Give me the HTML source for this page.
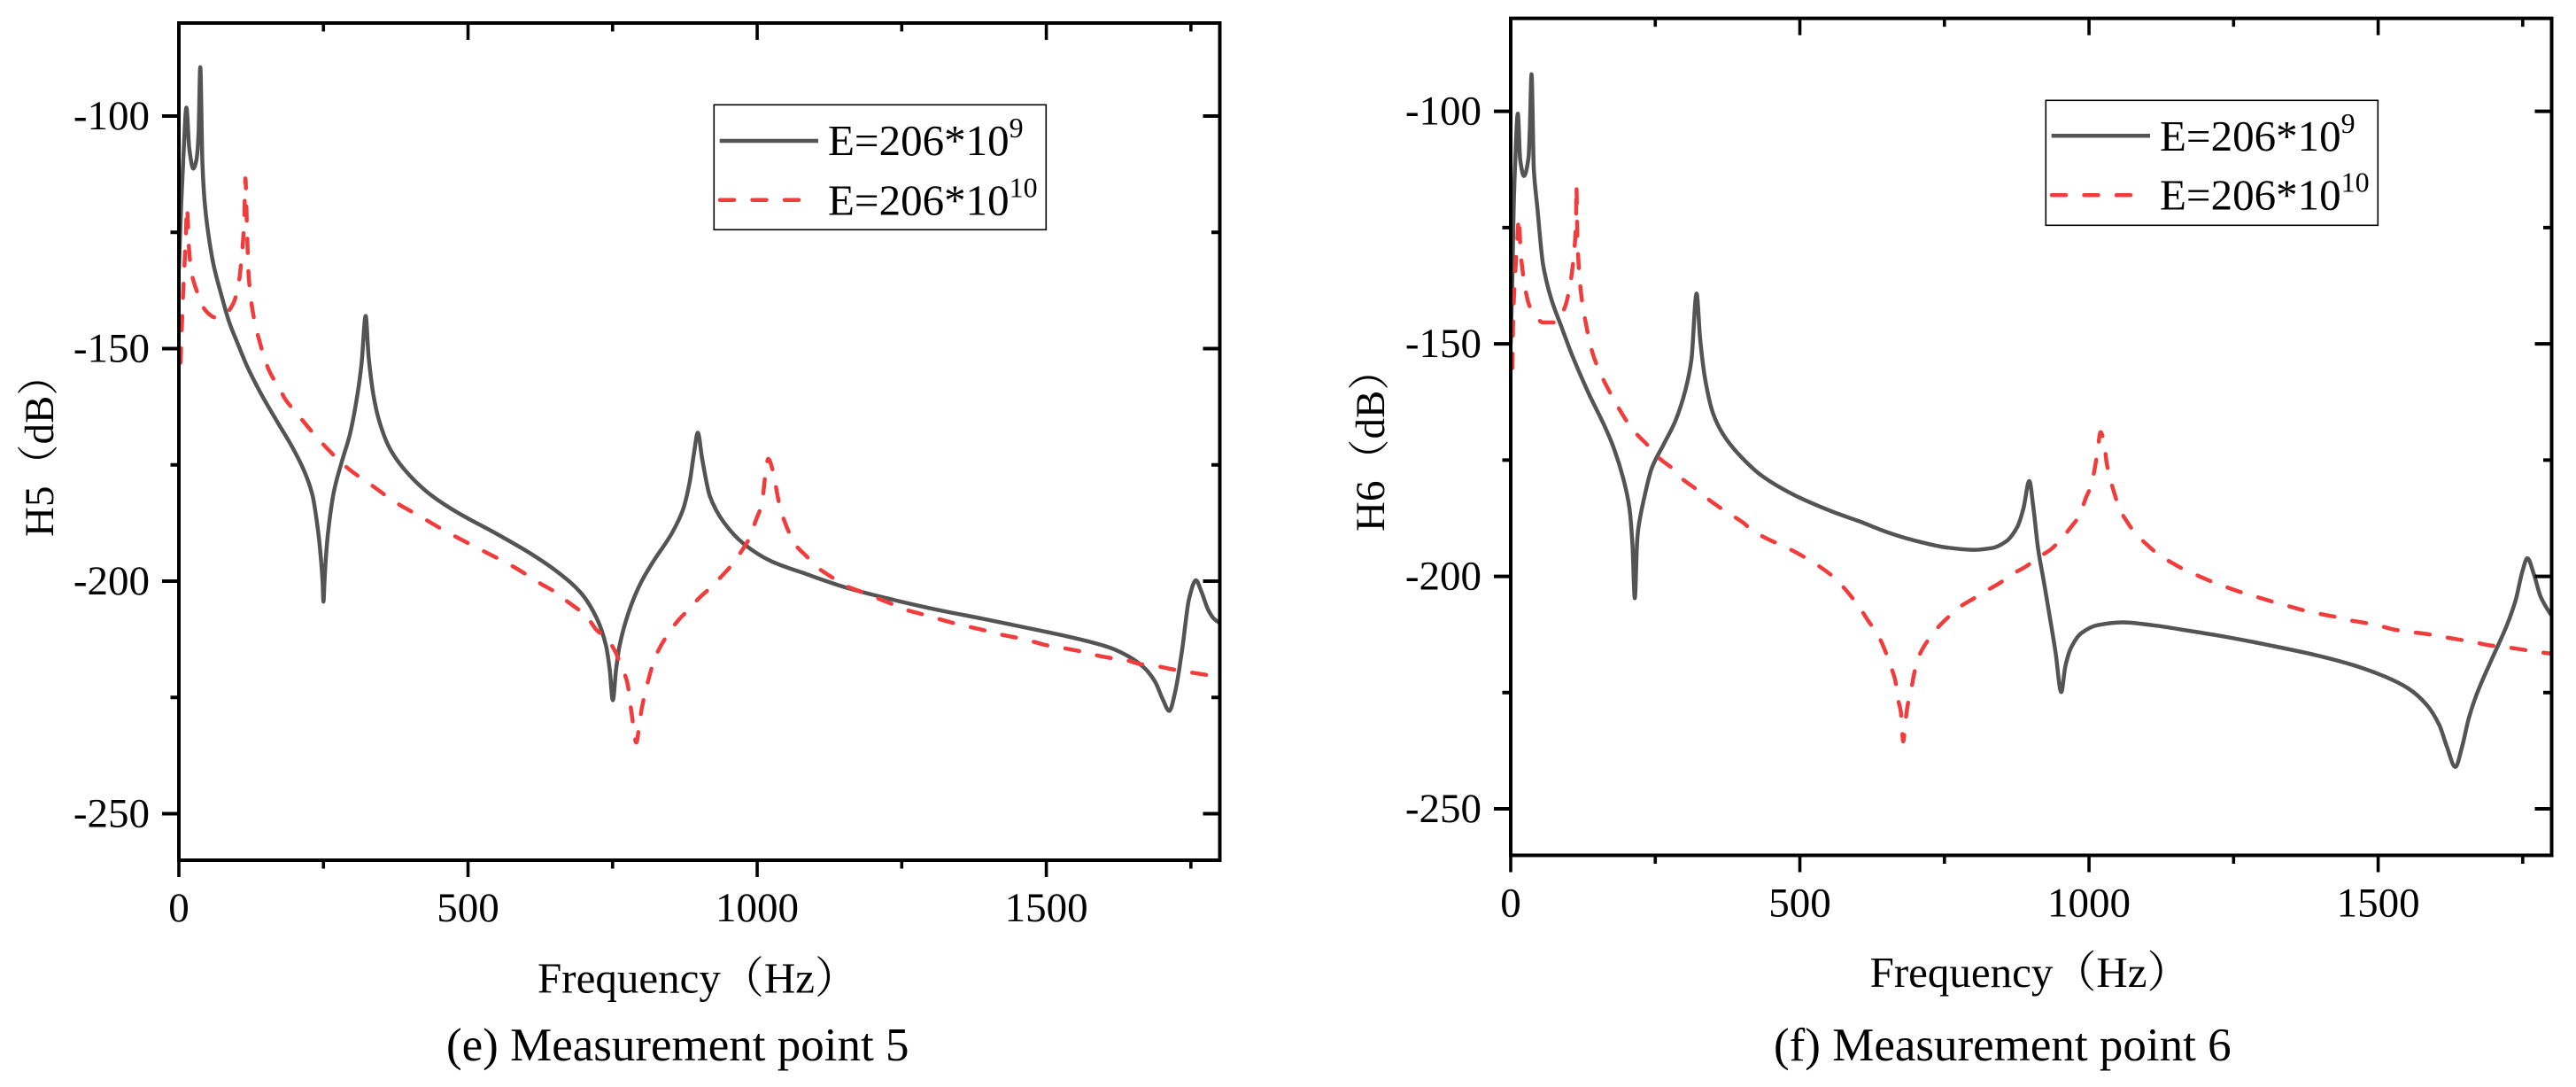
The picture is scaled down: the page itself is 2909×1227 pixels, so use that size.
<!DOCTYPE html>
<html lang="en">
<head>
<meta charset="utf-8">
<title>Frequency response at measurement points 5 and 6</title>
<style>
html,body{margin:0;padding:0;background:#fff;}
svg{display:block;}
text{font-family:"Liberation Serif","Noto Serif CJK SC",serif;fill:#000;}
.tick-label{font-size:47px;}
.axis-title{font-size:49px;}
.axis-title-y{font-size:47px;}
.legend-text{font-size:49px;}
.legend-sup{font-size:32px;}
.caption{font-size:53px;}
</style>
</head>
<body>
<svg id="chart" xmlns="http://www.w3.org/2000/svg" width="2909" height="1227" viewBox="0 0 2909 1227">
  <rect x="0" y="0" width="2909" height="1227" fill="#fff"/>
  <g id="panel-e"></g>
  <g id="panel-f"></g>

  <text class="axis-title-y" transform="translate(60,606) rotate(-90)">H5（dB）</text>
  <text class="axis-title" x="607" y="1120.7">Frequency（Hz）</text>
  <text class="caption" x="504" y="1197">(e) Measurement point 5</text>

  <text class="axis-title-y" transform="translate(1563,600) rotate(-90)">H6（dB）</text>
  <text class="axis-title" x="2111.6" y="1114">Frequency（Hz）</text>
  <text class="caption" x="2003" y="1197">(f) Measurement point 6</text>

  <g>
    <rect x="806.3" y="118.3" width="375" height="141" fill="#fff" stroke="#000" stroke-width="1.6"/>
    <line x1="812.7" y1="159" x2="924" y2="159" stroke="#545454" stroke-width="4.5"/>
    <line x1="813" y1="225.7" x2="903" y2="225.7" stroke="#f23c3c" stroke-width="4.5" stroke-linecap="round" stroke-dasharray="16 20.5"/>
    <text class="legend-text" x="935" y="175">E=206*10<tspan class="legend-sup" dy="-20">9</tspan></text>
    <text class="legend-text" x="935" y="242.7">E=206*10<tspan class="legend-sup" dy="-20">10</tspan></text>
  </g>
  <g>
    <rect x="2310.3" y="113.3" width="375" height="141" fill="#fff" stroke="#000" stroke-width="1.6"/>
    <line x1="2316.7" y1="153.3" x2="2428" y2="153.3" stroke="#545454" stroke-width="4.5"/>
    <line x1="2317" y1="220.3" x2="2407" y2="220.3" stroke="#f23c3c" stroke-width="4.5" stroke-linecap="round" stroke-dasharray="16 20.5"/>
    <text class="legend-text" x="2439" y="170">E=206*10<tspan class="legend-sup" dy="-20">9</tspan></text>
    <text class="legend-text" x="2439" y="236.7">E=206*10<tspan class="legend-sup" dy="-20">10</tspan></text>
  </g>
</svg>
<script>
var xTickValues = [0, 500, 1000, 1500];
var xMinorValues = [250, 750, 1250, 1750];
var yTickValues = [-100, -150, -200, -250];
var yMinorValues = [-125, -175, -225];
var xTickLabels = ["0", "500", "1000", "1500"];
var yTickLabels = ["-100", "-150", "-200", "-250"];

var freqH5Solid = [0,4,8.5,13,18,25,30.4,34,37,40.7,44.8,51,60,73.5,87,101,118,142,169,196.6,217,231,241,245.5,248.5,250,252,254.5,258,268,282,295.8,309,316,323,328,337,347,364,388,429,477,552,610,656.6,695.7,723,738.7,745,750.4,756,762,778,797,820.7,852,871.5,883,891,897.3,905,918.4,942,977,1024,1078.7,1157,1235,1313,1391,1469,1547.6,1610,1641,1669,1688,1702,1712.5,1723.5,1735,1747,1758.7,1768,1780,1790,1800];
var dbH5Solid = [-133,-119,-107,-98.2,-107,-111.3,-109.4,-104,-89.5,-110.1,-118.8,-125.4,-132,-138.5,-144.3,-148.7,-153.8,-159.7,-165.5,-171.3,-176.4,-181.5,-189.5,-195,-200,-204.4,-199.5,-194.5,-189.5,-180.8,-174.2,-168.4,-159.7,-153.1,-143,-151.6,-160.4,-165.8,-171.3,-175.7,-180.8,-184.9,-190,-194.2,-198.2,-202.6,-208.1,-213.9,-219,-225.6,-219,-213.9,-206.6,-200.8,-195.7,-189.8,-184.7,-178.9,-172.3,-168.1,-173.8,-181.8,-187.3,-192,-195.7,-198.2,-201.5,-204,-206.2,-208.1,-210.1,-212.2,-214.3,-216.1,-218.6,-221.6,-225.6,-227.9,-223.4,-214.6,-203.7,-199.8,-202.2,-206.2,-208.1,-209];

var freqH5Dashed = [3,5,7,10,12,14,17.4,21.5,25.6,36,46,63,77,94,103,109,113,115,118,121,128,138.5,155.6,176,183,207,244.5,292,337,374,419,463,520,580,629,649,672,692,703.5,723,738.7,754,766,775,783,791,797,801,809,824.6,848,863.7,883,899,922,938,957.5,971,988.8,996.6,1008,1014.6,1019,1028,1031.8,1038,1043.5,1055,1065,1086.5,1103.7,1129.5,1149,1176,1200,1231,1250.6,1282,1305,1333,1356,1387,1422.5,1450,1477,1504.6,1530,1559,1585,1610,1637.5,1665,1692,1719.6,1743,1774,1798];
var dbH5Dashed = [-153,-145.8,-139.2,-131.2,-126,-119.6,-128.3,-133.4,-135.6,-139.2,-141.8,-143.3,-143,-140.3,-136.3,-129.8,-122.5,-113.4,-125.4,-134.9,-142.2,-148,-154.6,-159,-160.7,-164.4,-169.9,-175.7,-179.7,-183,-186.2,-189.4,-193.1,-197,-200.8,-202.2,-204.4,-206.2,-207.3,-210.6,-212.1,-215,-218.6,-221.6,-228.5,-234.7,-230,-227,-222.6,-216.1,-211,-208.4,-205.9,-203.7,-201.1,-199,-196.3,-193.9,-190.2,-187.3,-183.3,-176.7,-173.7,-176.7,-179.3,-183.3,-185.8,-189.5,-192,-194.8,-197,-199.2,-200.8,-202.1,-203.3,-204.8,-205.9,-207,-207.8,-208.8,-209.5,-210.4,-211.5,-212.2,-213,-213.9,-214.4,-215.1,-215.9,-216.5,-217,-217.9,-218.3,-219,-219.5,-220.1,-220.7];

var freqH6Solid = [0,3,5,7.5,12.3,16.4,23,30.8,33,36,40,46,56,70,87,107,135,162,177,194.7,205.3,210.4,214.6,218.5,220.6,230.5,244,264.6,285,302,312.5,321.4,327.6,336.5,350,367,394.6,435.6,490,558.7,603.6,651,698.4,753.8,801,833,856.5,876.3,886.6,896.8,904,912,922,931.6,942,952,959,968.8,986.9,1014.6,1058,1109.5,1172.7,1236,1315,1394,1457,1512.5,1552,1583.7,1605.8,1619,1633.5,1645,1657,1670.6,1698,1722,1737.8,1749.7,1758,1769.4,1781,1797,1800];
var dbH6Solid = [-150,-135,-121.3,-111.8,-100.5,-110.4,-113.9,-110,-104,-92,-112.6,-120.6,-133,-140.3,-146.1,-152.7,-160.7,-167.6,-172,-179,-185.3,-192.9,-204.7,-192.8,-189.8,-183.3,-176.7,-171.6,-166.5,-160,-153.4,-139.2,-149,-157.8,-165,-169.4,-173.8,-178.5,-182.5,-186.2,-188.2,-190.5,-192.3,-193.8,-194.3,-193.9,-192.5,-189.3,-185.4,-179.5,-185.4,-194.1,-201.2,-208.3,-216.2,-224.9,-219.4,-215.4,-212.2,-210.5,-209.9,-210.5,-211.7,-213,-214.9,-217,-219.1,-221.6,-224.1,-227.6,-232,-236.7,-241,-236.7,-230.4,-225.3,-217.4,-210.7,-205.1,-198.8,-196.1,-199.6,-204.4,-207.9,-208.4];

var freqH6Dashed = [3,4,5.5,8,11.6,14,17,20,24,32,42,56,78.6,94,102.6,108.7,113,113.5,115.6,121,129,141.6,155,175.7,189,210,240.7,256,281.7,295.4,319,336,360.4,377.5,401.4,418.5,500,555,580,607.5,617.8,635,645.5,657.3,665,669.2,674.7,678.7,682.6,686.6,693,698.4,708,723.7,739.5,759,775,802.8,821,846,866,892,910,934,951,969.5,983,995,1004,1010.6,1014.6,1020,1026.5,1030.4,1036,1044,1052.5,1067.6,1080,1103,1120,1143.5,1162.4,1191,1213.8,1244,1267.5,1297.6,1319,1350.5,1374,1400,1425.6,1453,1477,1507,1530,1558.4,1583.7,1611,1635,1664,1690.4,1718,1741.8,1771.8,1797];
var dbH6Dashed = [-155.2,-146,-140.3,-134.4,-127.2,-122.8,-130,-133.7,-137.4,-141.7,-143.9,-145.4,-145.4,-142,-137.4,-131.5,-123.5,-115.9,-128.6,-138.4,-145,-152,-156.3,-161.4,-164.3,-168.3,-172.3,-174.5,-177,-178.9,-181.1,-182.9,-185.1,-186.5,-188.4,-190.2,-195.3,-199.8,-203,-207.5,-209.5,-212.6,-215.4,-219.4,-222.4,-226.1,-229.2,-235.5,-231.2,-227.6,-224,-220.5,-216.6,-213.4,-210.9,-208.5,-206.7,-204.6,-203.2,-201.4,-199.6,-197.8,-196.1,-194.2,-192.1,-189.3,-187,-183,-180.3,-176.3,-173.2,-169,-171.6,-175.5,-178.7,-182.2,-185.4,-188.6,-190.7,-193.5,-195.3,-197.1,-198.4,-200,-201.2,-202.6,-203.6,-204.7,-205.5,-206.6,-207.4,-208.1,-208.7,-209.5,-210,-210.8,-211.5,-212,-212.4,-213,-213.5,-214.1,-214.8,-215.2,-215.6,-216.2,-216.6];

var xDomain = [0, 1800];
var yDomain = [-260, -80];
var NS = "http://www.w3.org/2000/svg";

function makeLine(parent, x1, y1, x2, y2, w) {
  var el = document.createElementNS(NS, "line");
  el.setAttribute("x1", x1);
  el.setAttribute("y1", y1);
  el.setAttribute("x2", x2);
  el.setAttribute("y2", y2);
  el.setAttribute("stroke", "#000");
  el.setAttribute("stroke-width", w);
  parent.appendChild(el);
  return el;
}

/* monotone cubic path so peaks do not overshoot */
function monotonePath(xs, ys) {
  var n = xs.length, d = [], m = [], i;
  for (i = 0; i < n - 1; i++) {
    d[i] = (ys[i + 1] - ys[i]) / Math.max(xs[i + 1] - xs[i], 1e-6);
  }
  m[0] = d[0];
  m[n - 1] = d[n - 2];
  for (i = 1; i < n - 1; i++) {
    m[i] = d[i - 1] * d[i] <= 0 ? 0 : 2 * d[i - 1] * d[i] / (d[i - 1] + d[i]);
  }
  var p = "M" + xs[0].toFixed(2) + " " + ys[0].toFixed(2);
  for (i = 0; i < n - 1; i++) {
    var h = (xs[i + 1] - xs[i]) / 3;
    p += "C" + (xs[i] + h).toFixed(2) + " " + (ys[i] + m[i] * h).toFixed(2) + " " +
         (xs[i + 1] - h).toFixed(2) + " " + (ys[i + 1] - m[i + 1] * h).toFixed(2) + " " +
         xs[i + 1].toFixed(2) + " " + ys[i + 1].toFixed(2);
  }
  return p;
}

function drawPanel(group, clipId, left, right, top, bottom, solidF, solidD, dashF, dashD) {
  function sx(v) { return left + (v - xDomain[0]) / (xDomain[1] - xDomain[0]) * (right - left); }
  function sy(v) { return bottom - (v - yDomain[0]) / (yDomain[1] - yDomain[0]) * (bottom - top); }

  var defs = document.createElementNS(NS, "defs");
  var clip = document.createElementNS(NS, "clipPath");
  clip.setAttribute("id", clipId);
  var clipRect = document.createElementNS(NS, "rect");
  clipRect.setAttribute("x", left);
  clipRect.setAttribute("y", top);
  clipRect.setAttribute("width", right - left);
  clipRect.setAttribute("height", bottom - top);
  clip.appendChild(clipRect);
  defs.appendChild(clip);
  group.appendChild(defs);

  var solid = document.createElementNS(NS, "path");
  
  
  solid.setAttribute("d", monotonePath(solidF.map(sx), solidD.map(sy)));
  solid.setAttribute("fill", "none");
  solid.setAttribute("stroke", "#545454");
  solid.setAttribute("stroke-width", "4.5");
  solid.setAttribute("stroke-linejoin", "round");
  solid.setAttribute("clip-path", "url(#" + clipId + ")");
  group.appendChild(solid);

  var dashed = document.createElementNS(NS, "path");
  
  
  dashed.setAttribute("d", monotonePath(dashF.map(sx), dashD.map(sy)));
  dashed.setAttribute("fill", "none");
  dashed.setAttribute("stroke", "#f23c3c");
  dashed.setAttribute("stroke-width", "4.5");
  dashed.setAttribute("stroke-linecap", "round");
  dashed.setAttribute("stroke-dasharray", "16 20.5");
  dashed.setAttribute("clip-path", "url(#" + clipId + ")");
  group.appendChild(dashed);

  var frame = document.createElementNS(NS, "rect");
  
  
  frame.setAttribute("x", left);
  frame.setAttribute("y", top);
  frame.setAttribute("width", right - left);
  frame.setAttribute("height", bottom - top);
  frame.setAttribute("fill", "none");
  frame.setAttribute("stroke", "#000");
  frame.setAttribute("stroke-width", "4");
  group.appendChild(frame);

  var MAJOR = 19, MINOR = 9.5;

  xTickValues.forEach(function (v, i) {
    var x = sx(v);
    var b = makeLine(group, x, bottom, x, bottom + MAJOR, 3.6);
    
    
    var t = makeLine(group, x, top, x, top + MAJOR, 3.6);
    
    
    var lab = document.createElementNS(NS, "text");
    
    
    lab.setAttribute("class", "tick-label");
    lab.setAttribute("x", x);
    lab.setAttribute("y", bottom + 69);
    lab.setAttribute("text-anchor", "middle");
    lab.textContent = xTickLabels[i];
    group.appendChild(lab);
  });

  xMinorValues.forEach(function (v) {
    var x = sx(v);
    var b = makeLine(group, x, bottom, x, bottom + MINOR, 3.6);
    
    
    var t = makeLine(group, x, top, x, top + MINOR, 3.6);
    
    
  });

  yTickValues.forEach(function (v, i) {
    var y = sy(v);
    var l = makeLine(group, left - MAJOR, y, left, y, 4);
    
    
    var r = makeLine(group, right - MAJOR, y, right, y, 4);
    
    
    var lab = document.createElementNS(NS, "text");
    
    
    lab.setAttribute("class", "tick-label");
    lab.setAttribute("x", left - 33);
    lab.setAttribute("y", y + 15);
    lab.setAttribute("text-anchor", "end");
    lab.textContent = yTickLabels[i];
    group.appendChild(lab);
  });

  yMinorValues.forEach(function (v) {
    var y = sy(v);
    var l = makeLine(group, left - MINOR, y, left, y, 4);
    
    
    var r = makeLine(group, right - MINOR, y, right, y, 4);
    
    
  });
}

drawPanel(document.getElementById("panel-e"), "clip-e", 202, 1377.5, 26, 971, freqH5Solid, dbH5Solid, freqH5Dashed, dbH5Dashed);
drawPanel(document.getElementById("panel-f"), "clip-f", 1706, 2881.5, 20.7, 965.5, freqH6Solid, dbH6Solid, freqH6Dashed, dbH6Dashed);
</script>
</body>
</html>
